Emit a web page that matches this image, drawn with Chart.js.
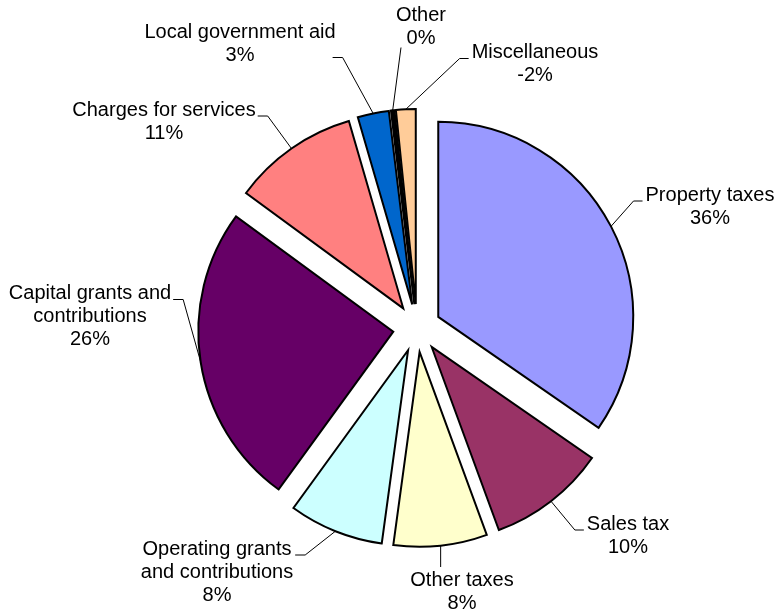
<!DOCTYPE html>
<html>
<head>
<meta charset="utf-8">
<script src="https://cdn.jsdelivr.net/npm/chart.js@4"></script>
<style>
  html, body { margin: 0; padding: 0; background: #fff; }
  #wrap { width: 775px; height: 610px; position: relative; }
</style>
</head>
<body>
<div id="wrap"><canvas id="revenueChart"></canvas></div>
<script>
// slices, clockwise from 12 o'clock (percent of total revenue)
const categories = [
  'Property taxes',
  'Sales tax',
  'Other taxes',
  'Operating grants\nand contributions',
  'Capital grants and\ncontributions',
  'Charges for services',
  'Local government aid',
  'Other',
  'Miscellaneous'
];
const amounts = [36.2, 10.2, 8.1, 8.2, 26.2, 10.9, 2.7, 0.3, -1.7];
const sliceColors = ['#9999FF', '#993366', '#FFFFCC', '#CCFFFF', '#660066', '#FF8080', '#0066CC', '#000000', '#FFCC99'];

// where each label sits, relative to the pie centre, and which side the leader joins
const labelLayout = [
  { dx: 293, dy: -121.5, side: 'left' },
  { dx: 211, dy: 207.5, side: 'left' },
  { dx: 45, dy: 264, side: 'top' },
  { dx: -200, dy: 244, side: 'right' },
  { dx: -327, dy: -11.5, side: 'right' },
  { dx: -253, dy: -206.5, side: 'right' },
  { dx: -177, dy: -284, side: 'right', row: 'last' },
  { dx: 4, dy: -301.5, side: 'bottom' },
  { dx: 118, dy: -264, side: 'left' }
];

const EXPLODE = 24;
const LINE_H = 23;

// pull every slice out from the centre by the same distance
const explodePlugin = {
  id: 'explode',
  beforeDatasetDraw(chart, args) {
    const ctx = chart.ctx;
    args.meta.data.forEach(arc => {
      const mid = (arc.startAngle + arc.endAngle) / 2;
      ctx.save();
      ctx.translate(Math.cos(mid) * EXPLODE, Math.sin(mid) * EXPLODE);
      arc.draw(ctx);
      ctx.restore();
    });
    return false;
  }
};

const labelPlugin = {
  id: 'leaderLabels',
  afterDatasetsDraw(chart) {
    const ctx = chart.ctx;
    const arcs = chart.getDatasetMeta(0).data;
    const total = amounts.reduce((a, b) => a + b, 0);
    ctx.save();
    ctx.font = '20px "Liberation Sans", Arial, sans-serif';
    ctx.fillStyle = '#000';
    ctx.strokeStyle = '#000';
    ctx.lineWidth = 1;
    ctx.textAlign = 'center';
    ctx.textBaseline = 'middle';
    arcs.forEach((arc, i) => {
      const lay = labelLayout[i];
      const mid = (arc.startAngle + arc.endAngle) / 2;
      const r = EXPLODE + arc.outerRadius;
      const ax = arc.x + Math.cos(mid) * r;
      const ay = arc.y + Math.sin(mid) * r;

      const lines = categories[i].split('\n').concat(Math.round(amounts[i] / total * 100) + '%');
      const cx = arc.x + lay.dx;
      const cy = arc.y + lay.dy;
      const w = Math.max(...lines.map(l => ctx.measureText(l).width));
      const left = cx - w / 2, right = cx + w / 2;
      const top = cy - lines.length * LINE_H / 2;
      const bottom = cy + lines.length * LINE_H / 2;
      const rowY = k => cy + (k - (lines.length - 1) / 2) * LINE_H;

      ctx.beginPath();
      ctx.moveTo(ax, ay);
      if (lay.side === 'left') {
        const y = rowY(0) + 6;
        ctx.lineTo(left - 12, y);
        ctx.lineTo(left - 3, y);
      } else if (lay.side === 'right') {
        const y = lay.row === 'last' ? rowY(lines.length - 1) + 2 : rowY(0) + 6;
        const x = lay.row === 'last' ? right - 3 : right + 2;
        ctx.lineTo(x + 10, y);
        ctx.lineTo(x, y);
      } else if (lay.side === 'top') {
        ctx.lineTo(Math.min(Math.max(ax, left + 5), right - 5), top - 2);
      } else {
        ctx.lineTo(Math.min(Math.max(ax, left + 5), right - 5), bottom - 2);
      }
      ctx.stroke();

      lines.forEach((l, k) => ctx.fillText(l, cx, rowY(k)));
    });
    ctx.restore();
  }
};

const ctx = document.getElementById('revenueChart').getContext('2d');
new Chart(ctx, {
  type: 'pie',
  data: {
    labels: categories,
    datasets: [{
      data: amounts.map(v => Math.abs(v)),
      backgroundColor: sliceColors,
      borderColor: '#000',
      borderWidth: 2,
      borderJoinStyle: 'miter'
    }]
  },
  options: {
    responsive: true,
    maintainAspectRatio: false,
    animation: false,
    events: [],
    radius: 195,
    layout: { padding: { left: 59, right: 0, top: 46, bottom: 0 } },
    plugins: {
      legend: { display: false },
      tooltip: { enabled: false }
    }
  },
  plugins: [explodePlugin, labelPlugin]
});
</script>
</body>
</html>
